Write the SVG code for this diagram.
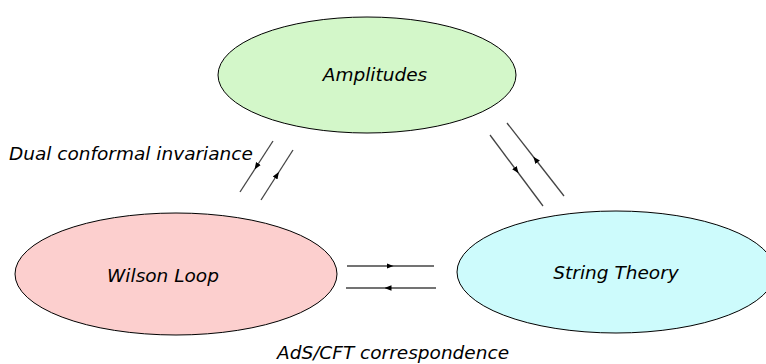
<svg xmlns="http://www.w3.org/2000/svg" width="766" height="364" viewBox="0 0 766 364">
<style>
.n{stroke:#000;stroke-width:1}
.t{font-family:"DejaVu Sans","Liberation Sans",sans-serif;font-style:italic;font-size:18.5px;fill:#000}
.c{stroke:#444;stroke-width:1.3;fill:none}
</style>
<defs>
<marker id="ah" viewBox="0 0 10 10" refX="5" refY="5" markerWidth="7" markerHeight="7" orient="auto" markerUnits="userSpaceOnUse"><path d="M0,1 L10,5 L0,9 z" fill="#000"/></marker>
</defs>
<rect width="766" height="364" fill="#fff"/>
<g id="amplitudes"><ellipse class="n" cx="367" cy="75" rx="149" ry="58" fill="#d3f7c9"/><text class="t" x="375" y="81" text-anchor="middle">Amplitudes</text></g>
<g id="wilson"><ellipse class="n" cx="176" cy="274" rx="161" ry="61" fill="#fccfce"/><text class="t" x="163" y="282" text-anchor="middle">Wilson Loop</text></g>
<g id="string"><ellipse class="n" cx="616" cy="272" rx="159" ry="61" fill="#cdfbfc"/><text class="t" x="616" y="279" text-anchor="middle">String Theory</text></g>
<g id="connectors">
<path class="c" d="M273,141 L256.5,166.5 L240,192" marker-mid="url(#ah)"/>
<path class="c" d="M261,200 L277,175 L293,150" marker-mid="url(#ah)"/>
<path class="c" d="M490,135 L516.5,170.5 L543,206" marker-mid="url(#ah)"/>
<path class="c" d="M564,196 L535.5,159.5 L507,123" marker-mid="url(#ah)"/>
<path class="c" d="M347,266 L390,266 L434,266" marker-mid="url(#ah)"/>
<path class="c" d="M436,288 L388,288 L346,288" marker-mid="url(#ah)"/>
</g>
<g id="labels">
<text class="t" x="9" y="160">Dual conformal invariance</text>
<text class="t" x="277" y="359">AdS/CFT correspondence</text>
</g>
</svg>
